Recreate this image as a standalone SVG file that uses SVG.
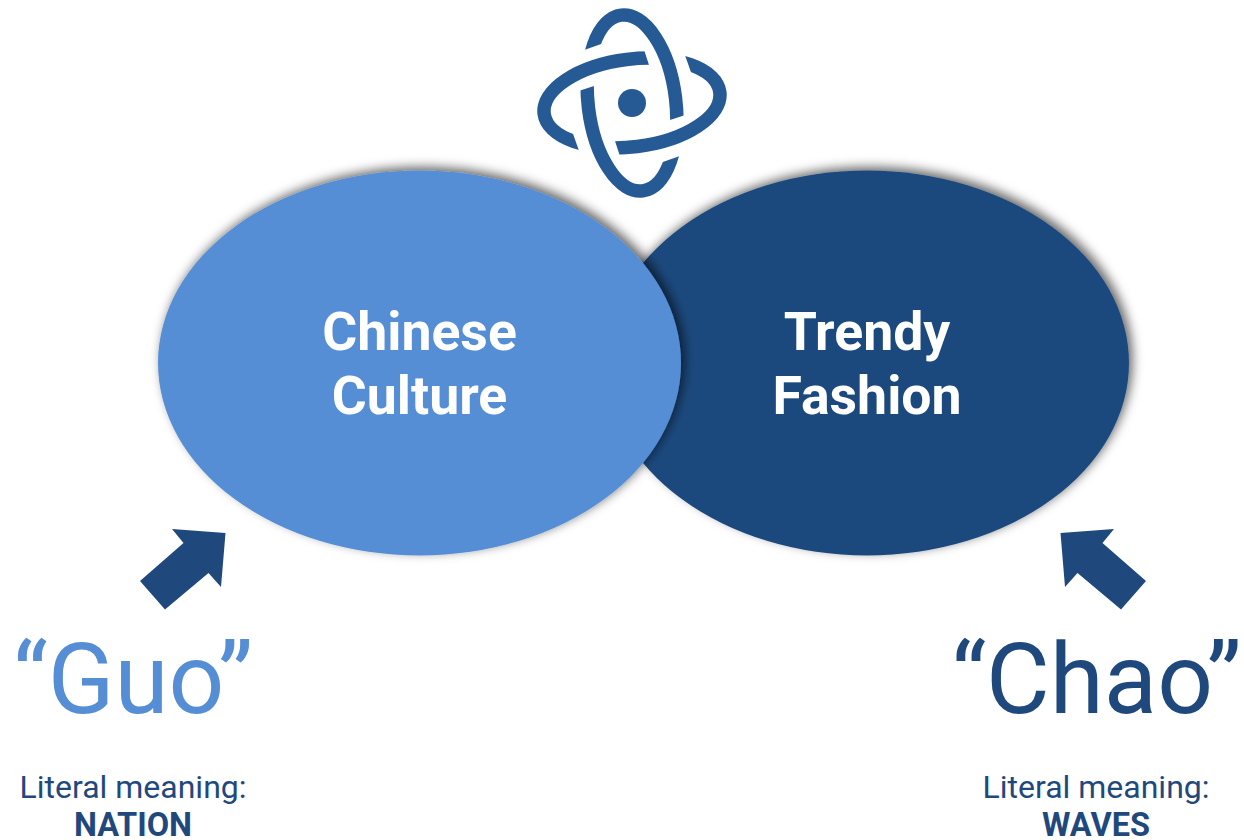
<svg xmlns="http://www.w3.org/2000/svg" width="1244" height="840" viewBox="0 0 1244 840">
<defs>
<style>
text{font-family:Roboto,"Liberation Sans",sans-serif;text-anchor:middle}
.big{font-size:53.6px;font-weight:700;fill:#fff}
.q{font-size:98px}
.m{font-size:32px;fill:#1F497D}
.b{font-weight:700;font-size:32.500px}
.ring{fill:none;stroke:#265A95;stroke-width:13.500}
.arrow{fill:#1F497D}
</style>
<filter id="sh" x="-10%" y="-10%" width="120%" height="120%">
<feDropShadow dx="3.500" dy="-3.500" stdDeviation="5.500" flood-color="#000" flood-opacity="0.6"/>
</filter>
<clipPath id="cut"><polygon points="570,55 603.300,43.300 670,120 700,110.200 730,0 570,0"/></clipPath>
<g id="arc" clip-path="url(#cut)"><ellipse class="ring" cx="632" cy="103" rx="43.800" ry="88.500" transform="rotate(-7 632 103)"/></g>
</defs>
<rect width="1244" height="840" fill="#fff"/>
<g id="logo">
<use href="#arc"/>
<use href="#arc" transform="rotate(180 632 103)"/>
<use href="#arc" transform="rotate(90 632 103)"/>
<use href="#arc" transform="rotate(-90 632 103)"/>
<circle cx="632" cy="103" r="14" fill="#265A95"/>
</g>
<g id="node-trendy">
<ellipse cx="867" cy="363" rx="262" ry="192.5" fill="#1F497D" filter="url(#sh)"/>
<text class="big" x="867" y="350">Trendy</text>
<text class="big" x="867" y="414">Fashion</text>
</g>
<g id="node-culture">
<ellipse cx="419.5" cy="363" rx="261.5" ry="192.5" fill="#558ED5" filter="url(#sh)"/>
<text class="big" x="419.5" y="350">Chinese</text>
<text class="big" x="419.5" y="414">Culture</text>
</g>
<g id="connectors">
<polygon class="arrow" points="225.5,533 172,529 183.500,543 140,581 165,609.500 208.500,573 221,587"/>
<polygon class="arrow" points="1060.500,533 1114,529 1102.500,543 1146,581 1121,609.500 1077.500,573 1065,587"/>
</g>
<g id="label-guo">
<text class="q" x="133" y="713" fill="#558ED5">“Guo”</text>
<text class="m" x="133" y="798">Literal meaning:</text>
<text class="m b" x="133" y="836">NATION</text>
</g>
<g id="label-chao">
<text class="q" x="1096.500" y="713" fill="#1F497D">“Chao”</text>
<text class="m" x="1096" y="798">Literal meaning:</text>
<text class="m b" x="1096" y="836">WAVES</text>
</g>
</svg>
